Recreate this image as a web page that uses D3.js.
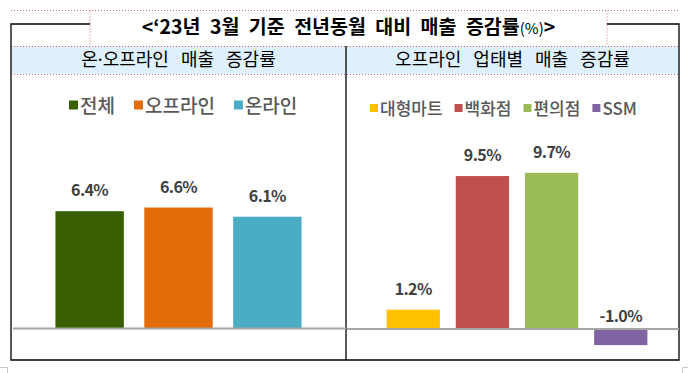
<!DOCTYPE html>
<html>
<head>
<meta charset="utf-8">
<script src="https://cdn.jsdelivr.net/npm/d3@7"></script>
<style>
  body { margin: 0; background: #fff; }
  svg { display: block; font-family: "Noto Sans CJK KR", "Noto Sans", sans-serif; }
</style>
</head>
<body>
<div id="chart"></div>
<script>
// Data
var titleText = "<‘23년 3월 기준 전년동월 대비 매출 증감률",
    titleUnit = "(%)",
    titleEnd = ">";
var panelTitles = [["온", "·", "오프라인 매출 증감률"], ["", "", "오프라인 업태별 매출 증감률"]];

var leftCats = ["전체", "오프라인", "온라인"],
    leftValues = [6.4, 6.6, 6.1],
    leftColors = ["#386000", "#e46c0a", "#4bacc6"];

var rightCats = ["대형마트", "백화점", "편의점", "SSM"],
    rightValues = [1.2, 9.5, 9.7, -1.0],
    rightColors = ["#ffc000", "#c0504d", "#9bbb59", "#8064a2"];

var width = 688, height = 373;

var svg = d3.select("#chart").append("svg")
            .attr("width", width)
            .attr("height", height);

// Frame
var boxL = 11, boxR = 679, boxT = 24, boxB = 360, midX = 346,
    bandT = 46, bandB = 74, titleL = 90, titleR = 607;

svg.append("rect")
   .attr("x", boxL).attr("y", bandT)
   .attr("width", boxR - boxL).attr("height", bandB - bandT)
   .attr("fill", "#ddf0fb");

var dotted = svg.append("g")
                .attr("stroke", "#c96a6a")
                .attr("stroke-width", 1)
                .attr("stroke-dasharray", "1,2")
                .attr("fill", "none");
dotted.append("line").attr("x1", boxL).attr("x2", boxR).attr("y1", 10.5).attr("y2", 10.5);
dotted.append("line").attr("x1", boxL).attr("x2", boxR).attr("y1", bandT + 0.5).attr("y2", bandT + 0.5);
dotted.append("line").attr("x1", boxL).attr("x2", boxR).attr("y1", bandB + 0.5).attr("y2", bandB + 0.5);
dotted.append("line").attr("x1", titleL).attr("x2", titleL).attr("y1", 10.5).attr("y2", bandT);
dotted.append("line").attr("x1", titleR).attr("x2", titleR).attr("y1", 10.5).attr("y2", bandT);

var solid = svg.append("g")
               .attr("stroke", "#000")
               .attr("stroke-width", 1.3)
               .attr("fill", "none");
solid.append("path")
     .attr("d", "M" + titleL + "," + boxT + "H" + boxL + "V" + boxB + "H" + boxR + "V" + boxT + "H" + titleR);
solid.append("line").attr("x1", midX).attr("x2", midX).attr("y1", bandT).attr("y2", boxB);

// page corner marks
var marks = svg.append("g").attr("stroke", "#c8c8c8").attr("fill", "none");
marks.append("path").attr("d", "M0,367.5H7.5V373");
marks.append("path").attr("d", "M688,367.5H682.5V373");

// Title
var title = svg.append("text")
               .attr("x", (titleL + titleR) / 2)
               .attr("y", 34)
               .attr("text-anchor", "middle")
               .attr("word-spacing", 5)
               .attr("fill", "#000");
title.append("tspan").attr("font-size", 19.5).attr("font-weight", "bold").text(titleText);
title.append("tspan").attr("font-size", 15).text(titleUnit);
title.append("tspan").attr("font-size", 19.5).attr("font-weight", "bold").text(titleEnd);

// Panel headers
var headers = svg.selectAll(".panel-title")
   .data(panelTitles)
   .enter().append("text")
   .attr("class", "panel-title")
   .attr("x", function(d, i) { return i === 0 ? (boxL + midX) / 2 : (midX + boxR) / 2; })
   .attr("y", 66)
   .attr("text-anchor", "middle")
   .attr("font-size", 18)
   .attr("word-spacing", 8)
   .attr("fill", "#000");
headers.append("tspan").text(function(d) { return d[0]; });
headers.append("tspan").attr("font-family", "Noto Sans").text(function(d) { return d[1]; });
headers.append("tspan").text(function(d) { return d[2]; });

// One bar panel
function drawPanel(cats, values, colors, opts) {
  var xScale = d3.scaleBand()
                 .domain(cats)
                 .range(opts.xRange)
                 .paddingInner(opts.padIn)
                 .paddingOuter(0.5);

  var yScale = d3.scaleLinear()
                 .domain(opts.yDomain)
                 .range(opts.yRange);

  var g = svg.append("g");

  g.selectAll("rect")
   .data(values)
   .enter().append("rect")
   .attr("x", function(d, i) { return xScale(cats[i]); })
   .attr("y", function(d) { return yScale(Math.max(0, d)); })
   .attr("width", xScale.bandwidth())
   .attr("height", function(d) { return Math.abs(yScale(d) - yScale(0)); })
   .attr("fill", function(d, i) { return colors[i]; });

  // baseline
  g.append("line")
   .attr("x1", opts.lineRange[0]).attr("x2", opts.lineRange[1])
   .attr("y1", yScale(0)).attr("y2", yScale(0))
   .attr("stroke", "#a6a6a6")
   .attr("stroke-width", 2);

  // value labels
  g.selectAll(".val")
   .data(values)
   .enter().append("text")
   .attr("class", "val")
   .attr("x", function(d, i) { return xScale(cats[i]) + xScale.bandwidth() / 2; })
   .attr("y", function(d) { return d >= 0 ? yScale(d) - 15 : yScale(0) - 7; })
   .attr("text-anchor", "middle")
   .attr("font-size", 16)
   .attr("font-weight", "bold")
   .attr("letter-spacing", -0.6)
   .attr("fill", "#404040")
   .text(function(d) { return d.toFixed(1) + "%"; });

  // legend
  var legend = g.append("g")
                .attr("transform", "translate(" + opts.legendX + "," + opts.legendY + ")");
  var cx = 0;
  cats.forEach(function(c, i) {
    legend.append("rect")
          .attr("x", cx).attr("y", -opts.sq / 2 - 1)
          .attr("width", opts.sq).attr("height", opts.sq)
          .attr("fill", colors[i]);
    var t = legend.append("text")
                  .attr("x", cx + opts.sq + 2)
                  .attr("y", opts.fs * 0.36)
                  .attr("font-size", opts.fs)
                  .attr("font-weight", 500)
                  .attr("fill", "#595959")
                  .text(c);
    cx += opts.sq + 2 + t.node().getComputedTextLength() + opts.gap;
  });
}

drawPanel(leftCats, leftValues, leftColors, {
  xRange: [boxL, midX], padIn: 0.23,
  yDomain: [-2, 10], yRange: [365, 145.3],
  lineRange: [13, midX],
  legendX: 69, legendY: 106, sq: 9, fs: 19, gap: 19
});

drawPanel(rightCats, rightValues, rightColors, {
  xRange: [352, 682], padIn: 0.23,
  yDomain: [-2, 12], yRange: [361.2, 135.8],
  lineRange: [midX + 1, boxR],
  legendX: 370, legendY: 109, sq: 8, fs: 17, gap: 12
});
</script>
</body>
</html>
